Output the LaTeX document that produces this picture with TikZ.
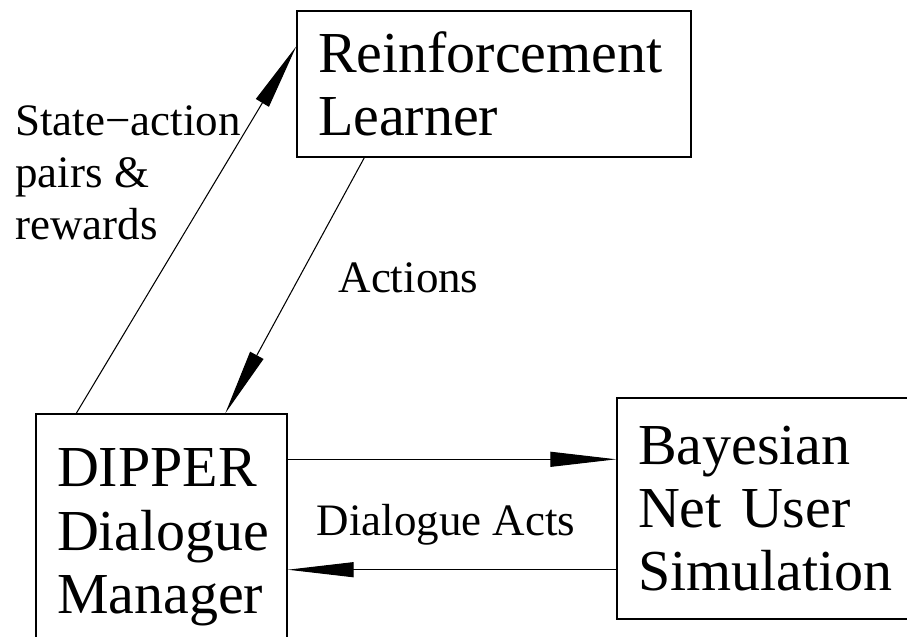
\documentclass[tikz,border=0pt]{standalone}
\usepackage{fontspec}
\setmainfont{Liberation Serif}
\usetikzlibrary{arrows.meta,calc}

\tikzset{
  box/.style={draw, line width=0.8pt, align=left, inner xsep=0.42cm, inner ysep=0pt,
    font=\fontsize{33}{36}\selectfont},
  lab/.style={inner sep=0pt, font=\fontsize{25.6}{29.6}\selectfont},
  flow/.style={line width=0.6pt, -{Triangle[length=1.32cm, width=0.3cm]}}
}

\begin{document}
\begin{tikzpicture}
    \useasboundingbox (0,0) rectangle (18.14,12.72);

    % the three components
    \node[box, text width=7.04cm, minimum height=2.92cm] (rl) at (9.88,11.04) {Reinforcement\\Learner};
    \node[box, text width=4.18cm, minimum height=4.94cm] (dm) at (3.23,1.97) {DIPPER\\Dialogue\\Manager};
    \node[box, text width=5.12cm, minimum height=4.42cm] (us) at (15.32,2.55) {Bayesian\\Net User\\Simulation};

    % labels
    \node[lab, align=left, anchor=west] (sa) at (0.3,9.27) {State−action\\pairs \&\\rewards};
    \node[lab] (act) at (8.17,7.16) {Actions};
    \node[lab] (da) at (8.92,2.22) {Dialogue Acts};

    % connections
    \draw[flow] ([xshift=0.82cm]dm.north west) -- ([yshift=-0.72cm]rl.north west);
    \draw[flow] ([xshift=1.36cm]rl.south west) -- ([xshift=3.8cm]dm.north west);
    \draw[flow] ([yshift=-0.92cm]dm.north east) -- ([yshift=-0.92cm]dm.north east -| us.west);
    \draw[flow] ([yshift=1.0cm]us.south west) -- ([yshift=1.0cm]us.south west -| dm.east);
\end{tikzpicture}
\end{document}
